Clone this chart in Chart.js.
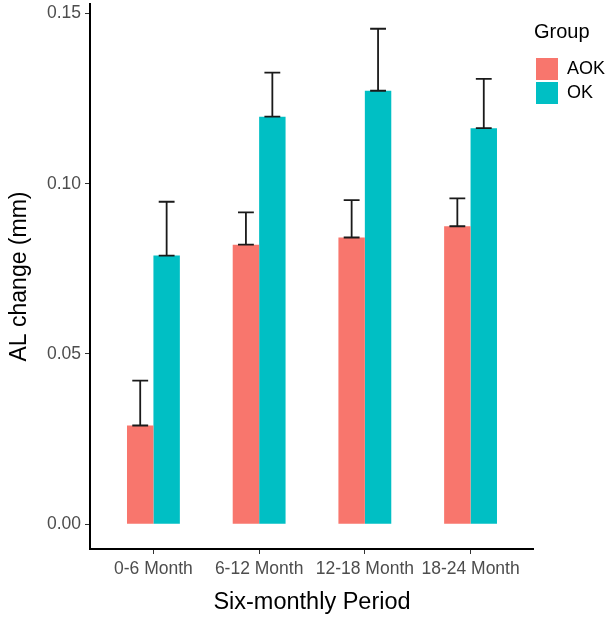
<!DOCTYPE html>
<html>
<head>
<meta charset="utf-8">
<script src="https://cdn.jsdelivr.net/npm/chart.js@4/dist/chart.umd.min.js"></script>
<style>
  html, body { margin: 0; padding: 0; background: #ffffff; }
  #wrap { position: relative; width: 613px; height: 622px; }
</style>
</head>
<body>
<div id="wrap"><canvas id="c"></canvas></div>
<script>
// ---- data ----
const categories = ['0-6 Month', '6-12 Month', '12-18 Month', '18-24 Month'];
const groupNames = ['AOK', 'OK'];
const aokMean = [0.0290, 0.0821, 0.0842, 0.0875];
const aokErr  = [0.0132, 0.0095, 0.0110, 0.0082];
const okMean  = [0.0789, 0.1197, 0.1273, 0.1163];
const okErr   = [0.0158, 0.0129, 0.0182, 0.0145];
const yTickValues = [0, 0.05, 0.10, 0.15];
const yTickLabels = ['0.00', '0.05', '0.10', '0.15'];

// ---- axis limits like ggplot (5% expansion of data range incl. error bars) ----
const allTops = aokMean.map((v, i) => v + aokErr[i]).concat(okMean.map((v, i) => v + okErr[i]));
const dataMax = Math.max(...allTops);
const dataMin = 0;
const yPad = (dataMax - dataMin) * 0.05;

const FONT = 'Liberation Sans, Arial, Helvetica, sans-serif';
const CAP = 0.15; // error bar cap width in category units

const errorBars = {
  id: 'errorBars',
  afterDatasetsDraw(chart) {
    const { ctx } = chart;
    const xs = chart.scales.x, ys = chart.scales.y;
    const half = (xs.getPixelForValue(1 + CAP / 2) - xs.getPixelForValue(1 - CAP / 2)) / 2;
    chart.data.datasets.forEach((ds, di) => {
      const meta = chart.getDatasetMeta(di);
      meta.data.forEach((bar, i) => {
        const m = ds.data[i].y;
        const e = ds.errors[i];
        const cx = bar.x;
        const y0 = ys.getPixelForValue(m);
        const y1 = ys.getPixelForValue(m + e);
        ctx.save();
        ctx.strokeStyle = '#1a1a1a';
        ctx.lineWidth = 1.8;
        ctx.beginPath();
        ctx.moveTo(cx, y0); ctx.lineTo(cx, y1);
        ctx.moveTo(cx - half, y1); ctx.lineTo(cx + half, y1);
        ctx.moveTo(cx - half, y0); ctx.lineTo(cx + half, y0);
        ctx.stroke();
        ctx.restore();
      });
    });
  }
};

const toXY = arr => arr.map((v, i) => ({ x: i + 1, y: v }));

new Chart(document.getElementById('c'), {
  type: 'bar',
  data: {
    datasets: [
      { label: groupNames[0], data: toXY(aokMean), errors: aokErr, backgroundColor: '#F8766D', borderWidth: 0 },
      { label: groupNames[1], data: toXY(okMean), errors: okErr, backgroundColor: '#00BFC4', borderWidth: 0 }
    ]
  },
  options: {
    responsive: true,
    maintainAspectRatio: false,
    animation: false,
    events: [],
    layout: { padding: { top: 4, right: -2, bottom: 0, left: 0 } },
    datasets: { bar: { categoryPercentage: 0.5, barPercentage: 1.0 } },
    scales: {
      x: {
        type: 'linear',
        min: 0.4,
        max: 4.6,
        offset: false,
        afterBuildTicks: s => { s.ticks = categories.map((c, i) => ({ value: i + 1 })); },
        afterFit: s => { s.height = 73; s.paddingLeft = 0; s.paddingRight = 0; },
        grid: { display: true, offset: false, drawOnChartArea: false, drawTicks: true, tickLength: 5, color: '#333333', lineWidth: 1 },
        border: { display: true, color: '#000000', width: 2 },
        ticks: {
          autoSkip: false, maxRotation: 0, minRotation: 0, padding: 5,
          color: '#4D4D4D', font: { family: FONT, size: 17.5 },
          callback: (v) => categories[Math.round(v) - 1]
        },
        title: { display: true, text: 'Six-monthly Period', color: '#000000', font: { family: FONT, size: 23.5 }, padding: { top: 0, bottom: 5 } }
      },
      y: {
        type: 'linear',
        min: dataMin - yPad,
        max: dataMax + yPad,
        afterBuildTicks: s => { s.ticks = yTickValues.map(v => ({ value: v })); },
        afterFit: s => { s.width = 90; s.paddingTop = 0; s.paddingBottom = 0; },
        grid: { display: true, drawOnChartArea: false, drawTicks: true, tickLength: 5, color: '#333333', lineWidth: 1 },
        border: { display: true, color: '#000000', width: 2 },
        ticks: {
          padding: 4, color: '#4D4D4D', font: { family: FONT, size: 17.5 },
          callback: (v, i) => yTickLabels[i]
        },
        title: { display: true, text: 'AL change (mm)', color: '#000000', font: { family: FONT, size: 23 }, padding: { top: 6, bottom: 0 } }
      }
    },
    plugins: {
      tooltip: { enabled: false },
      legend: {
        display: true,
        position: 'right',
        align: 'start',
        labels: {
          boxWidth: 22, boxHeight: 22, padding: 2,
          color: '#000000', font: { family: FONT, size: 18 }
        },
        title: {
          display: true, text: 'Group', position: 'start', color: '#000000',
          font: { family: FONT, size: 20 }, padding: { top: 18, bottom: 10 }
        }
      }
    }
  },
  plugins: [errorBars]
});
</script>
</body>
</html>
